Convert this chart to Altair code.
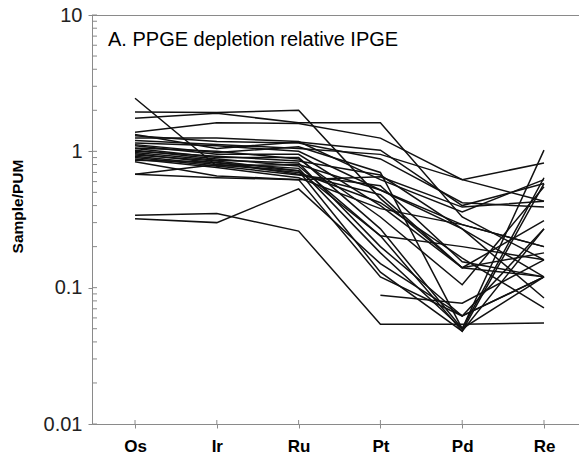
import altair as alt
import pandas as pd

title_text = "A. PPGE depletion relative IPGE"
elements = ["Os", "Ir", "Ru", "Pt", "Pd", "Re"]

os_ = [2.45, 1.94, 1.75, 1.38, 1.33, 1.30, 1.25, 1.20, 1.15, 1.12, 1.10, 1.06, 1.05, 1.02,
       1.00, 0.98, 0.96, 0.94, 0.92, 0.90, 0.88, 0.86, 0.84, 0.68, 0.68, 0.34, 0.32, None]
ir = [0.78, 1.93, 1.90, 1.62, 1.05, 1.18, 1.25, 1.12, 1.10, 0.98, 0.95, 1.00, 0.90, 0.88,
      0.92, 0.86, 0.82, 0.85, 0.80, 0.78, 0.76, 0.83, 0.66, 0.64, 0.80, 0.35, 0.30, None]
ru = [0.80, 2.00, 1.62, 1.60, 1.17, 1.15, 1.18, 1.05, 1.00, 1.08, 0.95, 0.88, 0.90, 0.78,
      0.85, 0.82, 0.75, 0.72, 0.70, 0.67, 0.64, 0.68, 0.62, 0.62, 0.72, 0.26, 0.53, None]
pt = [0.52, 0.45, 1.62, 1.25, 1.02, 0.88, 0.62, 0.95, 0.52, 0.70, 0.40, 0.33, 0.27, 0.24,
      0.67, 0.20, 0.18, 0.13, 0.42, 0.56, 0.38, 0.48, 0.12, 0.65, 0.24, 0.054, 0.15, 0.088]
pd_ = [0.27, 0.14, 0.33, 0.62, 0.40, 0.42, 0.36, 0.62, 0.29, 0.05, 0.14, 0.105, 0.05, 0.048,
       0.27, 0.062, 0.05, 0.048, 0.165, 0.155, 0.29, 0.14, 0.062, 0.39, 0.20, 0.054, 0.062, 0.077]
re = [0.12, 0.12, 0.16, 0.82, 0.58, 0.39, 0.62, 0.43, 0.20, 1.02, 0.31, 0.55, 0.12, 0.58,
      0.084, 0.12, 0.64, 0.27, 0.071, 0.12, 0.20, 0.18, 0.27, 0.43, 0.16, 0.055, 0.12, 0.16]

series = [os_, ir, ru, pt, pd_, re]
rows = []
for s in range(len(os_)):
    for j, el in enumerate(elements):
        v = series[j][s]
        if v is not None:
            rows.append({"sample": s, "idx": j, "element": el, "value": v})
df = pd.DataFrame(rows)

FONT = "Liberation Sans"
GRAY = "#8a8a8a"
major = [0.01, 0.1, 1, 10]
minor = [m * d for d in [0.01, 0.1, 1] for m in range(1, 10)] + [10]

xscale = alt.Scale(domain=[-0.526, 5.428], nice=False, zero=False)
yscale = alt.Scale(type="log", domain=[0.01, 10], nice=False)
label_expr = "['Os','Ir','Ru','Pt','Pd','Re'][datum.value]"

main = alt.Chart(df).mark_line(color="#111111", strokeWidth=1.5).encode(
    x=alt.X("idx:Q", scale=xscale,
            axis=alt.Axis(orient="bottom", values=list(range(6)), labelExpr=label_expr,
                          title=None, grid=False, domainColor=GRAY, tickColor=GRAY,
                          tickSize=4, labelFont=FONT, labelFontSize=17,
                          labelFontWeight="bold", labelColor="#000000", labelPadding=10)),
    y=alt.Y("value:Q", scale=yscale,
            axis=alt.Axis(orient="left", values=major, labelExpr="'' + datum.value",
                          grid=False, domainColor=GRAY, tickColor=GRAY, tickSize=4,
                          labelFont=FONT, labelFontSize=20, labelColor="#222222",
                          labelPadding=6, title="Sample/PUM", titleFont=FONT,
                          titleFontSize=15.5, titleFontWeight="bold", titleColor="#000000",
                          titleX=-75, titleY=191, titleAngle=270, titleAlign="center",
                          titleBaseline="middle")),
    detail="sample:N",
)

# inner minor ticks on the y axis
yticks = alt.Chart(pd.DataFrame({"v": minor})).mark_rule(color=GRAY, strokeWidth=1).encode(
    y=alt.Y("v:Q", scale=yscale, axis=None),
    x=alt.value(0), x2=alt.value(5),
)

# inner ticks on the x axis
xticks = alt.Chart(pd.DataFrame({"i": list(range(len(elements)))})).mark_rule(
    color=GRAY, strokeWidth=1).encode(
    x=alt.X("i:Q", scale=xscale, axis=None),
    y=alt.value(405), y2=alt.value(409),
)

# top frame line
topline = alt.Chart(pd.DataFrame({"a": [0]})).mark_rule(color=GRAY, strokeWidth=1).encode(
    x=alt.value(0), x2=alt.value(487), y=alt.value(0.5),
)

label = alt.Chart(pd.DataFrame({"t": [title_text]})).mark_text(
    align="left", baseline="alphabetic", font=FONT, fontSize=20, color="#000000").encode(
    text="t:N", x=alt.value(16), y=alt.value(31),
)

chart = alt.layer(main, yticks, xticks, topline, label).resolve_axis(
    x="independent", y="independent"
).properties(
    width=487, height=409,
    autosize=alt.AutoSizeParams(type="none"),
    padding={"left": 92, "top": 15, "right": 0, "bottom": 35},
).configure_view(strokeWidth=0).configure(background="white")

chart.save("out.html", embed_options={"renderer": "svg", "actions": False})
